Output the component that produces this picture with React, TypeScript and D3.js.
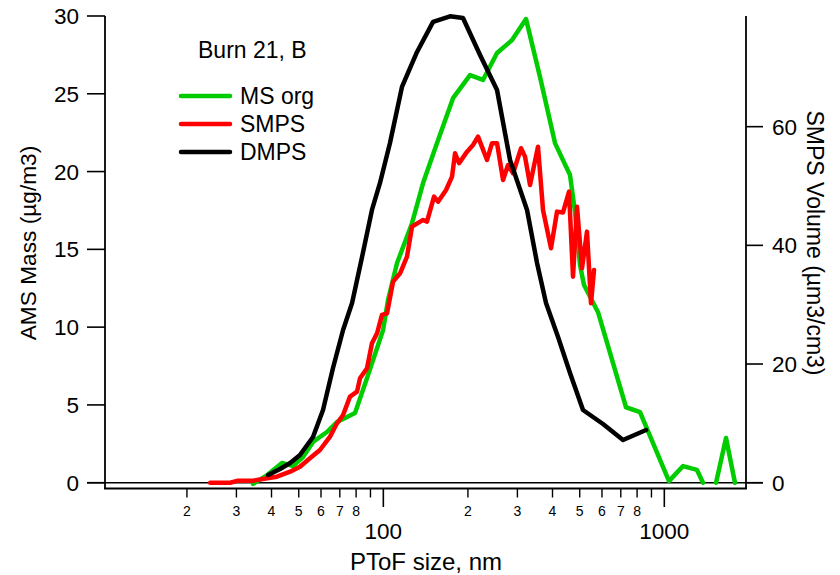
import React from "react";
import * as d3 from "d3";

// MS org (AMS mass, left axis)
const msOrgSize = [34.4, 38.6, 43.6, 47.7, 51.8, 56.2, 63.0, 68.4, 79.3, 87.5, 95.0, 99.8, 103.9, 111.9, 126.5, 138.5, 155.3, 177.0, 203.5, 226.3, 253.9, 287.1, 322.0, 361.2, 408.3, 461.7, 481.0, 501.2, 517.8, 580.9, 730.7, 819.4, 1039, 1166, 1307, 1373, 1450, 1528, 1658, 1784];
const msOrgMass: (number | null)[] = [-0.08, 0.49, 1.27, 1.07, 1.65, 2.62, 3.26, 3.9, 4.48, 6.73, 8.66, 9.82, 11.74, 14.12, 16.68, 19.26, 21.83, 24.72, 26.2, 25.89, 27.62, 28.45, 29.8, 26.07, 21.83, 19.78, 17.4, 13.99, 12.71, 10.96, 4.85, 4.54, 0.1, 1.07, 0.82, 0.0, null, 0.0, 2.87, 0.0];

// SMPS volume (right axis)
const smpsSize = [24.2, 28.5, 30.4, 34.4, 38.6, 41.8, 46.6, 50.5, 54.8, 59.5, 64.6, 68.4, 71.9, 76.1, 80.6, 82.6, 87.5, 91.1, 95.0, 98.9, 103.1, 108.3, 114.7, 121.4, 126.5, 138.5, 143.0, 151.5, 156.6, 167.2, 175.6, 180.0, 186.0, 198.6, 208.6, 217.3, 233.9, 243.7, 253.9, 266.7, 277.8, 289.5, 309.1, 319.4, 332.7, 355.2, 370.1, 395.2, 415.1, 436.0, 458.0, 473.2, 489.0, 509.4, 530.7, 548.4, 562.1];
const smpsVolume = [0, 0, 0.34, 0.34, 0.74, 1.01, 1.85, 2.7, 4.11, 5.51, 7.75, 10.01, 11.41, 14.5, 15.34, 17.6, 19.28, 23.5, 25.18, 28.27, 28.55, 33.88, 35.29, 38.09, 43.15, 44.28, 43.99, 48.21, 47.36, 49.33, 51.58, 55.52, 53.83, 55.79, 56.92, 58.32, 54.39, 57.21, 57.21, 51.02, 53.55, 52.15, 56.36, 54.95, 50.18, 56.63, 45.96, 39.51, 45.68, 45.54, 49.05, 34.72, 46.52, 36.14, 42.31, 30.24, 35.85];

// DMPS volume (right axis)
const dmpsSize = [38.9, 42.9, 46.6, 50.5, 56.2, 61.0, 66.2, 71.9, 77.4, 84.0, 91.1, 97.3, 105.6, 116.5, 131.8, 150.3, 172.8, 192.1, 220.9, 253.9, 282.4, 324.7, 352.4, 379.3, 418.6, 461.7, 513.6, 605.1, 712.9, 860.8];
const dmpsVolume = [1.3, 2.31, 3.32, 4.67, 7.7, 12.25, 19.33, 25.74, 30.29, 38.04, 45.96, 50.51, 57.26, 66.69, 72.59, 77.65, 78.6, 78.32, 72.08, 66.18, 54.38, 45.96, 37.03, 30.29, 24.56, 18.49, 12.25, 9.89, 7.2, 8.88];

const leftTicks = [0, 5, 10, 15, 20, 25, 30];
const rightTicks = [0, 20, 40, 60];
const xMajorTicks = [100, 1000];
const xMinorTicks = [20, 30, 40, 50, 60, 70, 80, 90, 200, 300, 400, 500, 600, 700, 800, 900];

const legendItems = [
  { label: "MS org", color: "#00CC00" },
  { label: "SMPS", color: "#FF0000" },
  { label: "DMPS", color: "#000000" },
];

const FONT = "'Liberation Sans', Arial, sans-serif";

export default function App() {
  const W = 840, H = 575;
  const x = d3.scaleLog().domain([10.22, 1953]).range([105, 746]);
  const yL = d3.scaleLinear().domain([0, 30]).range([482.7, 16]);
  const yR = d3.scaleLinear().domain([0, 78.65]).range([482.7, 16]);
  const axisY = 488.5;

  type P = { s: number; v: number | null };
  const lineL = d3
    .line<P>()
    .defined((d) => d.v !== null)
    .x((d) => x(d.s))
    .y((d) => yL(d.v as number));
  const lineR = d3
    .line<P>()
    .defined((d) => d.v !== null)
    .x((d) => x(d.s))
    .y((d) => yR(d.v as number));

  const msPts = msOrgSize.map((s, i) => ({ s, v: msOrgMass[i] }));
  const smpsPts = smpsSize.map((s, i) => ({ s, v: smpsVolume[i] }));
  const dmpsPts = dmpsSize.map((s, i) => ({ s, v: dmpsVolume[i] }));

  const minorLabel = (t: number) => {
    const m = t / Math.pow(10, Math.floor(Math.log10(t)));
    return m <= 8 ? String(Math.round(m)) : "";
  };

  return (
    <svg
      width={W}
      height={H}
      style={{ position: "absolute", left: 0, top: 0, background: "#fff" }}
      fontFamily={FONT}
    >
      <rect x={0} y={0} width={W} height={H} fill="#fff" />
      {/* zero line */}
      <line x1={87} x2={763} y1={yL(0)} y2={yL(0)} stroke="#000" strokeWidth={1.6} />
      {/* axes */}
      <line x1={105} x2={105} y1={16} y2={axisY} stroke="#000" strokeWidth={1.8} />
      <line x1={746} x2={746} y1={16} y2={axisY} stroke="#000" strokeWidth={1.8} />
      <line x1={104} x2={747} y1={axisY} y2={axisY} stroke="#000" strokeWidth={1.8} />

      {/* left ticks */}
      {leftTicks.map((t) => (
        <g key={"l" + t}>
          <line x1={87} x2={105} y1={yL(t)} y2={yL(t)} stroke="#000" strokeWidth={1.6} />
          <text x={79} y={yL(t)} dy="0.36em" textAnchor="end" fontSize={22.5}>
            {t}
          </text>
        </g>
      ))}
      {/* right ticks */}
      {rightTicks.map((t) => (
        <g key={"r" + t}>
          <line x1={746} x2={763} y1={yR(t)} y2={yR(t)} stroke="#000" strokeWidth={1.6} />
          <text x={772} y={yR(t)} dy="0.36em" textAnchor="start" fontSize={22.5}>
            {t}
          </text>
        </g>
      ))}
      {/* x ticks */}
      {xMinorTicks.map((t) => (
        <g key={"xm" + t}>
          <line x1={x(t)} x2={x(t)} y1={axisY} y2={497.5} stroke="#000" strokeWidth={1.4} />
          <text x={x(t)} y={516} textAnchor="middle" fontSize={14}>
            {minorLabel(t)}
          </text>
        </g>
      ))}
      {xMajorTicks.map((t) => (
        <g key={"xM" + t}>
          <line x1={x(t)} x2={x(t)} y1={axisY} y2={507} stroke="#000" strokeWidth={1.6} />
          <text x={x(t)} y={539} textAnchor="middle" fontSize={22.5}>
            {t}
          </text>
        </g>
      ))}

      {/* axis titles */}
      <text x={426} y={570} textAnchor="middle" fontSize={24}>
        PToF size, nm
      </text>
      <text
        transform={`translate(36,243) rotate(-90)`}
        textAnchor="middle"
        fontSize={22.7}
      >
        AMS Mass (µg/m3)
      </text>
      <text
        transform={`translate(807,243) rotate(90)`}
        textAnchor="middle"
        fontSize={23}
      >
        SMPS Volume (µm3/cm3)
      </text>

      {/* series */}
      <g fill="none" strokeWidth={4.5} strokeLinejoin="round" strokeLinecap="round">
        <path d={lineL(msPts) || ""} stroke="#00CC00" />
        <path d={lineR(smpsPts) || ""} stroke="#FF0000" />
        <path d={lineR(dmpsPts) || ""} stroke="#000000" />
      </g>

      {/* legend */}
      <text x={198} y={58} fontSize={23}>
        Burn 21, B
      </text>
      {legendItems.map((it, i) => (
        <g key={it.label}>
          <line
            x1={181}
            x2={230}
            y1={96 + i * 28}
            y2={96 + i * 28}
            stroke={it.color}
            strokeWidth={4.5}
            strokeLinecap="round"
          />
          <text x={240} y={96 + i * 28} dy="0.36em" fontSize={23}>
            {it.label}
          </text>
        </g>
      ))}
    </svg>
  );
}
